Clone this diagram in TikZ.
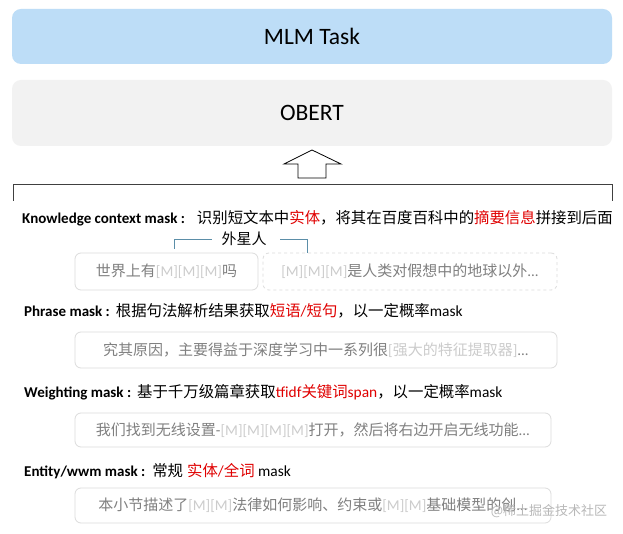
\documentclass[tikz,border=0pt]{standalone}
\usepackage{fontspec}
\setmainfont{Carlito}
\newfontfamily\cjk{Noto Sans CJK SC}
\usetikzlibrary{positioning}
\definecolor{mlmblue}{HTML}{BDDDF7}
\definecolor{obertgray}{HTML}{F2F2F2}
\definecolor{boxline}{HTML}{DCDCDC}
\definecolor{boxtext}{HTML}{808080}
\definecolor{mtext}{HTML}{CCCCCC}
\definecolor{redt}{HTML}{E00000}
\definecolor{teal}{HTML}{5B8EA8}
\newcommand{\zh}[1]{{\cjk #1}}
\newcommand{\rz}[1]{{\cjk\color{redt}#1}}
\newcommand{\mm}{{\color{mtext}[M]}}
\newcommand{\lbl}[1]{{\bfseries\fontsize{15}{18}\selectfont #1}}
\begin{document}
\begin{tikzpicture}[x=1pt,y=-1pt,
  bigbox/.style={rounded corners=9pt, minimum width=600pt, font=\fontsize{23.5}{27}\selectfont, inner sep=0pt},
  samplebox/.style={draw=boxline, line width=0.8pt, rounded corners=6pt, inner sep=0pt, text=boxtext, font=\fontsize{15}{18}\selectfont},
  headline/.style={anchor=west, inner sep=0pt, font=\fontsize{15.4}{18}\selectfont},
]
\useasboundingbox (0,0) rectangle (623,534);
\fill[white] (0,0) rectangle (623,534);

\node[bigbox, fill=mlmblue, minimum height=55pt] (mlm) at (312,36.5) {MLM Task};
\node[bigbox, fill=obertgray, minimum height=66pt] (obert) at (312,113) {OBERT};

% block arrow
\draw[line width=0.8pt, fill=white] (298,178) -- (298,164) -- (284,164) -- (312,150) -- (341,164) -- (326,164) -- (326,178) -- cycle;

% bracket
\draw[line width=0.9pt, draw=black!75] (13,201) -- (13,184) -- (612,184) -- (612,201);

% Knowledge context mask
\node[headline] (k) at (22,218) {\lbl{Knowledge context mask :}\hspace{12pt}\zh{识别短文本中}\rz{实体}\zh{，将其在百度百科中的}\rz{摘要信息}\zh{拼接到后面}};

\node[inner sep=0pt, font=\cjk\fontsize{15}{18}\selectfont] (alien) at (244,239) {外星人};
\coordinate (la) at (174,249);
\coordinate (ra) at (307,253);
\draw[teal, line width=0.8pt] (la) |- (212,239.5);
\draw[teal, line width=0.8pt] (280,239.5) -| (ra);

\node[samplebox, minimum width=183pt, minimum height=37pt] (s1) at (166.5,271.5) {\zh{世界上有}\mm\mm\mm\zh{吗}};
\node[samplebox, dashed, minimum width=294pt, minimum height=37pt] (s2) at (410,271.5) {\mm\mm\mm\zh{是人类对假想中的地球以外}...};

% Phrase mask
\node[headline] (p) at (24,311) {\lbl{Phrase mask :}\hspace{6pt}\zh{根据句法解析结果获取}\rz{短语}{\color{redt}/}\rz{短句}\zh{，以一定概率}mask};
\node[samplebox, minimum width=482pt, minimum height=36pt] (s3) at (316,350) {\zh{究其原因，主要得益于深度学习中一系列很}{\color{mtext}[\zh{强大的特征提取器}]}...};

% Weighting mask
\node[headline] (w) at (24,392) {\lbl{Weighting mask :}\hspace{6pt}\zh{基于千万级篇章获取}{\color{redt}tfidf}\rz{关键词}{\color{redt}span}\zh{，以一定概率}mask};
\node[samplebox, minimum width=476pt, minimum height=34pt] (s4) at (313,430) {\zh{我们找到无线设置}-\mm\mm\mm\mm\zh{打开，然后将右边开启无线功能}...};

% Entity/wwm mask
\node[headline] (e) at (24,471) {\lbl{Entity/wwm mask :}\hspace{7pt}\zh{常规}\hspace{4pt}\rz{实体}{\color{redt}/}\rz{全词} mask};
\node[samplebox, minimum width=476pt, minimum height=35pt] (s5) at (313,505.5) {\zh{本小节描述了}\mm\mm\zh{法律如何影响、约束或}\mm\mm\zh{基础模型的创}...};

% watermark
\node[inner sep=0pt, text=black!28, font=\cjk\fontsize{13}{15}\selectfont] (wm) at (549,511) {@稀土掘金技术社区};
\end{tikzpicture}
\end{document}
